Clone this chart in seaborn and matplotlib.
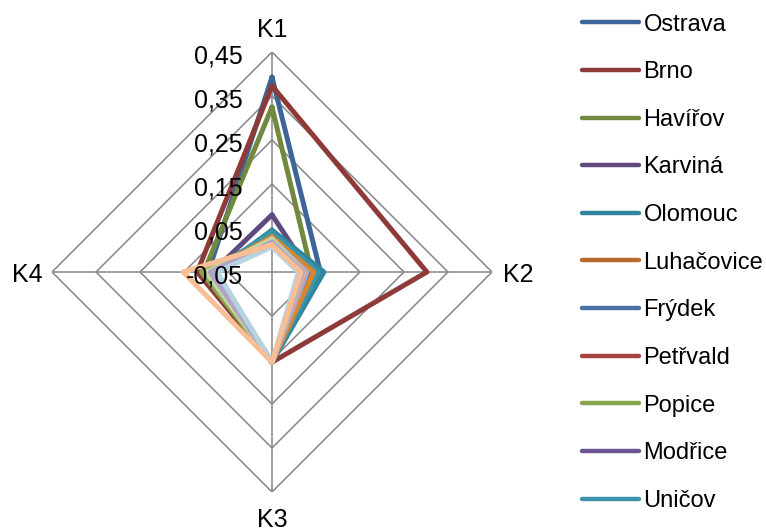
import numpy as np
import pandas as pd
import matplotlib
matplotlib.use("Agg")
import matplotlib.pyplot as plt
from matplotlib.lines import Line2D
import seaborn as sns

# data
criteria = ["K1", "K2", "K3", "K4"]
cities = ["Ostrava", "Brno", "Havířov", "Karviná", "Olomouc", "Luhačovice",
          "Frýdek", "Petřvald", "Popice", "Modřice", "Uničov",
          "_s12", "_s13", "_s14", "_s15", "_s16", "_s17", "_s18"]
k1 = [0.393, 0.373, 0.325, 0.080, 0.045, 0.035, 0.035, 0.030, 0.030, 0.035, 0.040,
      0.030, 0.025, 0.022, 0.025, 0.018, 0.007, 0.012]
k2 = [0.060, 0.302, 0.040, 0.035, 0.068, 0.048, 0.045, 0.040, 0.035, 0.035, 0.055,
      0.045, 0.030, 0.026, 0.022, 0.020, 0.010, 0.016]
k3 = [0.155] * 18
k4 = [0.095, 0.120, 0.105, 0.085, 0.080, 0.090, 0.085, 0.090, 0.110, 0.095, 0.090,
      0.095, 0.085, 0.095, 0.100, 0.090, 0.075, 0.152]
colors = ["#3E6597", "#8E3A38", "#71893F", "#5E4A7E", "#31859C", "#B9692B",
          "#4A72A8", "#A54341", "#87A34B", "#6E5594", "#3A95AB", "#D8852E",
          "#95B3D7", "#D99694", "#C3D69B", "#B3A2C7", "#B7D3E0", "#F9BE94"]
levels = [-0.05, 0.05, 0.15, 0.25, 0.35, 0.45]

sns.set_style("white")
plt.rcParams['font.family'] = ['Liberation Sans', 'DejaVu Sans']
plt.rcParams['text.color'] = 'black'

# K1 top, K2 right, K3 bottom, K4 left, going clockwise and back to K1
ang = {"K1": np.pi / 2, "K2": 0.0, "K3": -np.pi / 2, "K4": -np.pi}
loop = [np.pi / 2, 0.0, -np.pi / 2, -np.pi, -3 * np.pi / 2]

rows = []
for i, c in enumerate(cities):
    vals = [k1[i], k2[i], k3[i], k4[i], k1[i]]
    for j in range(5):
        rows.append({"city": c, "theta": loop[j], "val": vals[j]})
df = pd.DataFrame(rows)

fig = plt.figure(figsize=(7.66, 5.31), dpi=100)
ax = fig.add_axes([52 / 766, 39 / 531, 440 / 766, 440 / 531], projection="polar")
ax.set_ylim(levels[0], levels[-1])
ax.grid(False)
ax.spines["polar"].set_visible(False)
ax.set_xticks([])
ax.set_yticks([])

# diamond gridlines and spokes
for lv in levels[1:]:
    ax.plot(loop, [lv] * 5, color="#868686", lw=1.1, zorder=1)
for k in criteria:
    ax.plot([ang[k], ang[k]], [levels[0], levels[-1]], color="#868686", lw=1.1, zorder=1)

sns.lineplot(data=df, x="theta", y="val", hue="city", palette=colors, sort=False,
             estimator=None, lw=3.6, legend=False, ax=ax, zorder=3)
ax.set_xlabel("")
ax.set_ylabel("")

# radial tick labels
for lv in levels:
    ax.annotate(f"{lv:.2f}".replace(".", ","), xy=(np.pi / 2, lv), xytext=(-21, -3),
                textcoords="offset points", ha="right", va="center", fontsize=18, zorder=5)

# category labels
ax.annotate("K1", xy=(np.pi / 2, levels[-1]), xytext=(0, 16), textcoords="offset points",
            ha="center", va="center", fontsize=18)
ax.annotate("K2", xy=(0, levels[-1]), xytext=(19, -2), textcoords="offset points",
            ha="center", va="center", fontsize=18)
ax.annotate("K3", xy=(-np.pi / 2, levels[-1]), xytext=(0, -20), textcoords="offset points",
            ha="center", va="center", fontsize=18)
ax.annotate("K4", xy=(-np.pi, levels[-1]), xytext=(-18, -2), textcoords="offset points",
            ha="center", va="center", fontsize=18)

handles = [Line2D([], [], color=colors[i], lw=3.2, solid_capstyle="round")
           for i in range(11)]
fig.legend(handles, cities[:11], loc="upper left", bbox_to_anchor=(568 / 766, 1.001),
           frameon=False, fontsize=17, handlelength=2.4, handletextpad=0.2,
           labelspacing=1.085, borderaxespad=0.2)

fig.savefig("out.png", dpi=100)
